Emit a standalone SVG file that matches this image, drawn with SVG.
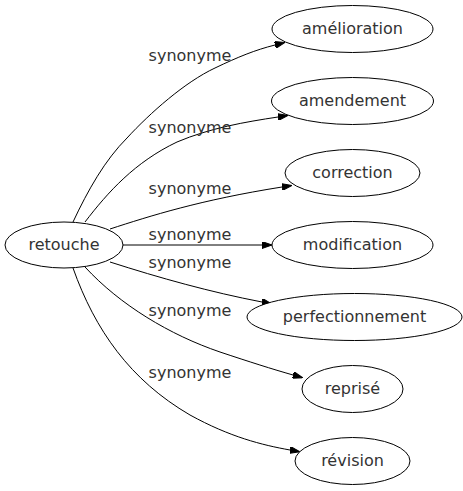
<svg xmlns="http://www.w3.org/2000/svg" width="463" height="491" viewBox="0 0 463 491">
<style>
.node ellipse{fill:#fff;stroke:#000;stroke-width:1}
text{font-family:"DejaVu Sans",sans-serif;font-size:16px;fill:#333;text-anchor:middle}
.edges path{fill:none;stroke:#000;stroke-width:1;marker-end:url(#ah)}
</style>
<defs>
<marker id="ah" viewBox="0 0 10 7" refX="0" refY="3.5" markerWidth="10" markerHeight="7" markerUnits="userSpaceOnUse" orient="auto">
<path d="M0,0 L10,3.5 L0,7 Z" fill="#000" stroke="#000"/>
</marker>
</defs>
<rect width="463" height="491" fill="#fff"/>
<g class="edges">
<path d="M73,222 C88,190 105,160 127,138 C150,113 185,82 215,68 C238,57 255,50 275,45"/>
<path d="M85,222 C108,192 135,162 177,142 C210,128 245,122 278,117"/>
<path d="M110,229 C150,216 200,200 282,187"/>
<path d="M123,245 L262,245"/>
<path d="M110,262 C160,278 210,292 262,302"/>
<path d="M85,267 C120,305 170,335 220,352 C250,362 272,369 293,375"/>
<path d="M73,268 C95,330 130,380 190,415 C230,437 262,445 290,450"/>
<text x="190" y="61">synonyme</text>
<text x="190" y="133">synonyme</text>
<text x="190" y="194">synonyme</text>
<text x="190" y="240">synonyme</text>
<text x="190" y="268">synonyme</text>
<text x="190" y="316">synonyme</text>
<text x="190" y="378">synonyme</text>
</g>
<g id="n0" class="node"><ellipse cx="64" cy="245" rx="59" ry="23"/><text x="64" y="250">retouche</text></g>
<g id="n1" class="node"><ellipse cx="352.5" cy="29" rx="80.5" ry="23.5"/><text x="352.5" y="34">amélioration</text></g>
<g id="n2" class="node"><ellipse cx="352.5" cy="101" rx="81" ry="23.5"/><text x="352.5" y="106">amendement</text></g>
<g id="n3" class="node"><ellipse cx="352.5" cy="173" rx="67.5" ry="23.5"/><text x="352.5" y="178">correction</text></g>
<g id="n4" class="node"><ellipse cx="352.5" cy="245" rx="80.5" ry="23.5"/><text x="352.5" y="250">modification</text></g>
<g id="n5" class="node"><ellipse cx="354.5" cy="317" rx="107.5" ry="23.5"/><text x="354.5" y="322">perfectionnement</text></g>
<g id="n6" class="node"><ellipse cx="352.5" cy="389" rx="50.5" ry="23.5"/><text x="352.5" y="394">reprisé</text></g>
<g id="n7" class="node"><ellipse cx="352.5" cy="461" rx="57.5" ry="23.5"/><text x="352.5" y="466">révision</text></g>
</svg>
